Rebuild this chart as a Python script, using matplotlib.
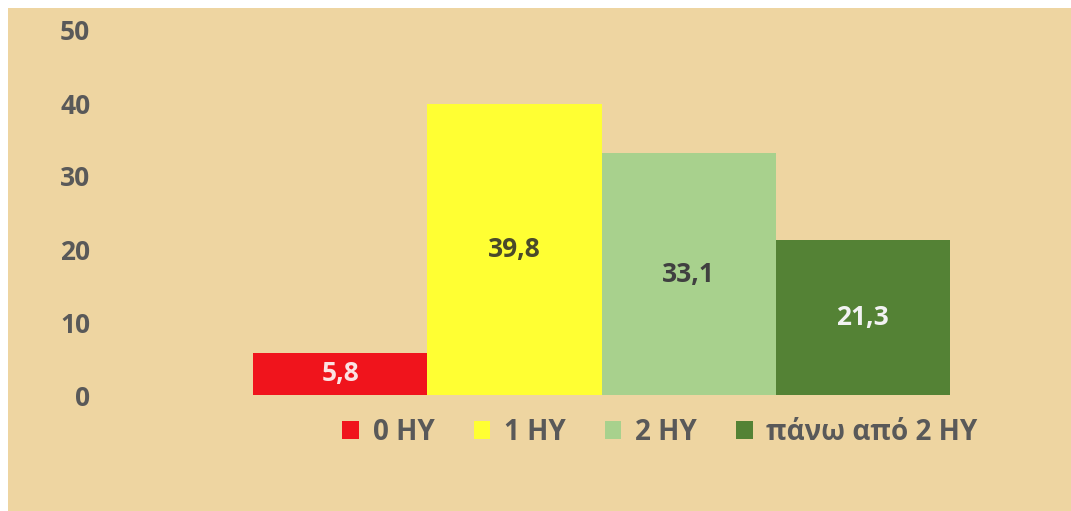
import matplotlib
matplotlib.use("Agg")
import matplotlib.pyplot as plt
from matplotlib.patches import Rectangle

categories = ["0 HY", "1 HY", "2 HY", "πάνω από 2 HY"]
values = [5.8, 39.8, 33.1, 21.3]
labels = ["5,8", "39,8", "33,1", "21,3"]
colors = ["#F0141C", "#FFFF33", "#A8D18D", "#548235"]
label_colors = ["#FBE3E3", "#4A4A2A", "#404040", "#F2F2F2"]
yticks = [0, 10, 20, 30, 40, 50]

plt.rcParams['font.family'] = ['Open Sans', 'DejaVu Sans']

W, H = 1071, 511
fig = plt.figure(figsize=(W / 100, H / 100), dpi=100)
fig.patch.set_facecolor("white")
bg = Rectangle((8 / W, 0), 1 - 8 / W, 1 - 8 / H, transform=fig.transFigure,
               facecolor="#EED5A1", edgecolor="none", zorder=-10)
fig.patches.append(bg)

ax_left, ax_right = 100, 1050
y0_px, y50_px = 395, 30
ax = fig.add_axes([ax_left / W, 1 - y0_px / H, (ax_right - ax_left) / W, (y0_px - y50_px) / H])
ax.set_facecolor("none")

px_per_unit = 174
xs = list(range(len(values)))
bars = ax.bar(xs, values, width=1.0, color=colors, zorder=2)
for b, c in zip(bars, categories):
    b.set_label(c)

for x, v, t, c in zip(xs, values, labels, label_colors):
    ax.text(x, v / 2, t, ha="center", va="center", fontsize=19, fontweight="bold", color=c, zorder=3)

ax.set_xlim(-0.5 - (253 - ax_left) / px_per_unit, 3.5 + (ax_right - 950) / px_per_unit)
ax.set_ylim(0, 50)
ax.set_yticks(yticks)
ax.set_yticklabels([str(t) for t in yticks], fontsize=19, fontweight="bold", color="#595959")
ax.set_xticks([])
ax.tick_params(axis="y", length=0, pad=7)
for s in ax.spines.values():
    s.set_visible(False)

fig.legend(handles=list(bars), labels=categories, loc="center",
           bbox_to_anchor=(660 / W, 1 - 432 / H), ncol=4, frameon=False,
           handlelength=0.6, handleheight=0.6, handletextpad=0.5, columnspacing=1.4,
           prop={"size": 20, "weight": "bold"}, labelcolor="#595959")

fig.savefig("out.png", dpi=100, facecolor=fig.get_facecolor())
